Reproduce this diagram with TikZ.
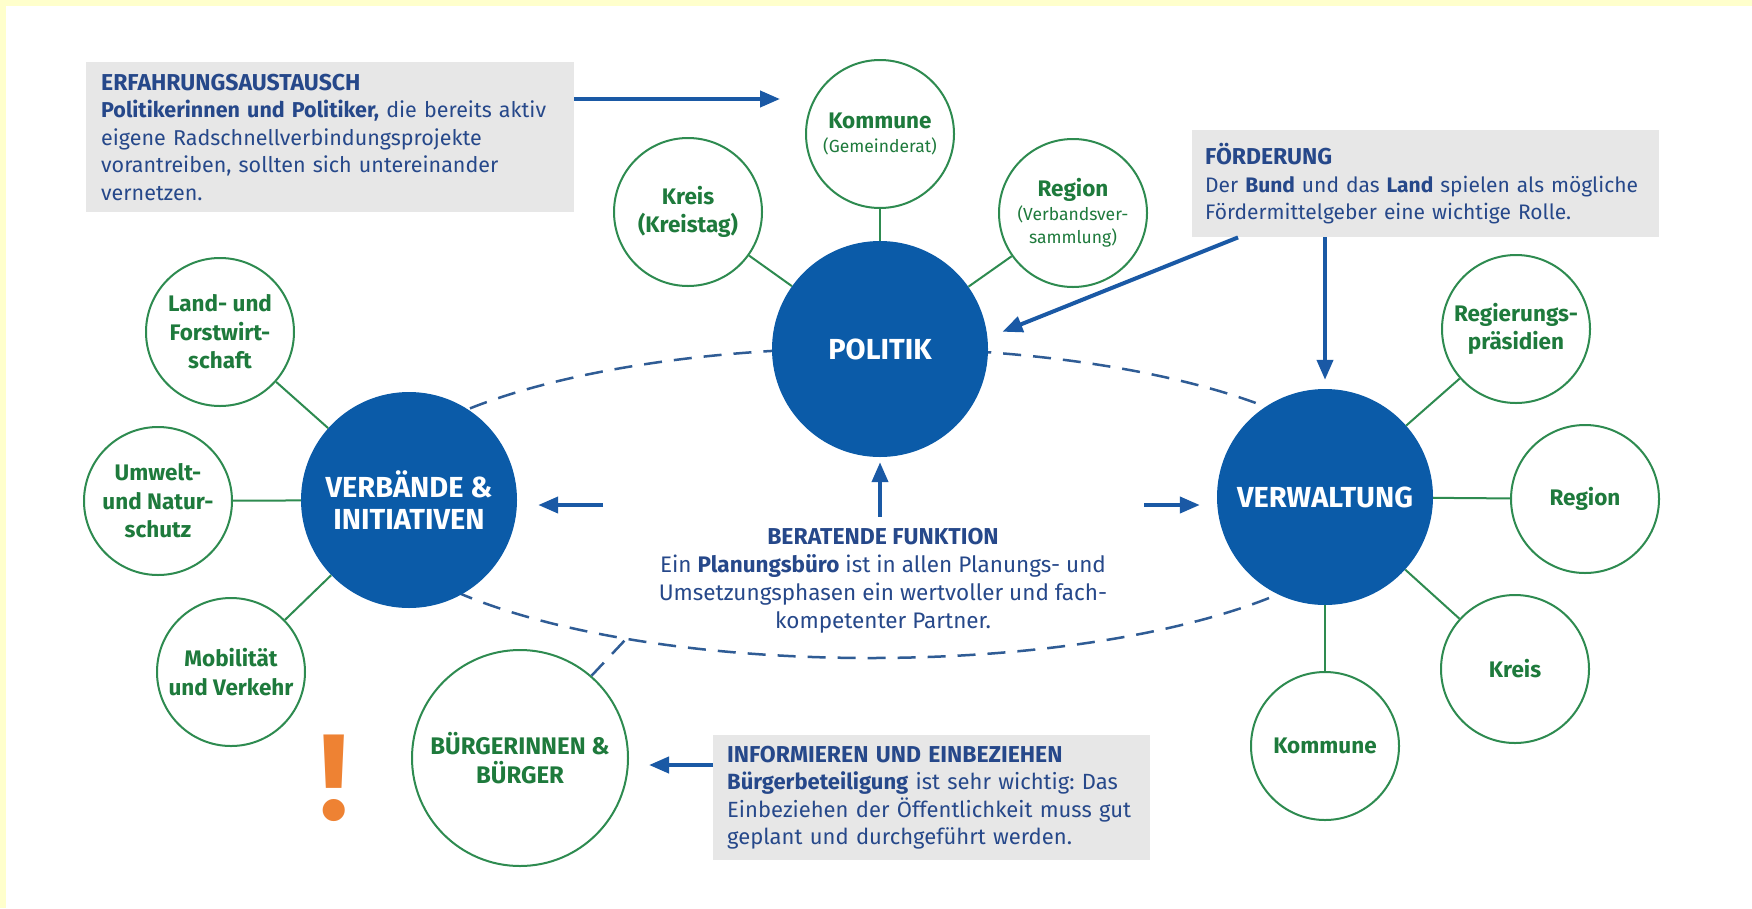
\documentclass[tikz,border=0pt]{standalone}
\usepackage{fontspec}
\setmainfont{Fira Sans}
\usetikzlibrary{arrows.meta, positioning}
\frenchspacing

\definecolor{hubblue}{HTML}{0B5BA8}
\definecolor{arrowblue}{HTML}{1A59A5}
\definecolor{ringblue}{HTML}{2F5C95}
\definecolor{satgreen}{HTML}{2E8B50}
\definecolor{textgreen}{HTML}{1E7A3C}
\definecolor{boxgray}{HTML}{E7E7E7}
\definecolor{textnavy}{HTML}{26488A}
\definecolor{paleyellow}{HTML}{FFFFCC}
\definecolor{signorange}{HTML}{EE8233}

\newcommand{\subnote}[1]{{\mdseries\fontsize{17.5}{21}\selectfont #1}}
\newcommand{\boxhead}[1]{{\bfseries\fontsize{23}{27.5}\selectfont #1}}

\tikzset{
  hub/.style={circle, fill=hubblue, text=white, minimum size=216pt, inner sep=0pt,
    align=center, font=\bfseries\fontsize{29}{32}\selectfont},
  sat/.style={circle, draw=satgreen, line width=2pt, fill=white, minimum size=148pt,
    inner sep=0pt, align=center, text=textgreen, font=\bfseries\fontsize{22.5}{28.5}\selectfont},
  infobox/.style={fill=boxgray, text=textnavy, align=left, anchor=north west,
    inner xsep=15pt, inner ysep=0pt, font=\fontsize{21.5}{27.5}\selectfont},
  flowarrow/.style={draw=arrowblue, line width=4pt, -{Triangle[length=20pt, width=16pt]}},
  spoke/.style={draw=satgreen, line width=2pt},
  orbit/.style={draw=ringblue, line width=2.5pt, dash pattern=on 18pt off 12pt},
}

\begin{document}
\begin{tikzpicture}[x=1pt, y=-1pt]

\useasboundingbox (0,0) rectangle (1752,908);
\fill[white] (0,0) rectangle (1752,908);
\fill[paleyellow] (0,0) rectangle (1752,6);
\fill[paleyellow] (0,0) rectangle (6,908);

\draw[orbit] (870,503) ellipse [x radius=505, y radius=155];

\node[hub] (pol) at (880,349) {POLITIK};
\node[hub] (verb) at (409,500) {VERBÄNDE \&\\INITIATIVEN};
\node[hub] (verw) at (1325,497) {VERWALTUNG};

\node[sat] (gemeinde) at (880,134) {Kommune\\[-4pt]\subnote{(Gemeinderat)}};
\node[sat] (kreistag) at (688,212) {Kreis\\(Kreistag)};
\node[sat] (verband) at (1073,213) {Region\\[-5pt]\subnote{(Verbandsver-}\\[-5pt]\subnote{sammlung)}};

\node[sat] (landforst) at (220,332) {Land- und\\Forstwirt-\\schaft};
\node[sat] (umwelt) at (158,501) {Umwelt-\\und Natur-\\schutz};
\node[sat] (mobil) at (231,672) {Mobilität\\und Verkehr};
\node[sat, minimum size=216pt, font=\bfseries\fontsize{24}{29}\selectfont] (buerger) at (520,758)
  {BÜRGERINNEN \&\\BÜRGER};

\node[sat] (praesid) at (1516,329) {Regierungs-\\präsidien};
\node[sat] (regionV) at (1585,499) {Region};
\node[sat] (kreisV) at (1515,669) {Kreis};
\node[sat] (kommuneV) at (1325,746) {Kommune};

\foreach \s in {gemeinde, kreistag, verband}
  \draw[spoke] (\s) -- (pol);
\foreach \s in {landforst, umwelt, mobil}
  \draw[spoke] (\s) -- (verb);
\foreach \s in {praesid, regionV, kreisV, kommuneV}
  \draw[spoke] (\s) -- (verw);

\coordinate (orbitjoin) at (626,639);
\draw[orbit] (buerger.49) -- (orbitjoin);

\node[infobox, text width=458pt, minimum height=150pt] (erfahrung) at (86,62)
  {\boxhead{ERFAHRUNGSAUSTAUSCH}\\
   \textbf{Politikerinnen und Politiker,} die bereits aktiv\\
   eigene Radschnellverbindungsprojekte\\
   vorantreiben, sollten sich untereinander\\
   vernetzen.};
\node[infobox, text width=441pt, inner xsep=13pt, minimum height=107pt,
  font=\fontsize{21}{27.5}\selectfont] (foerder) at (1192,130)
  {\boxhead{FÖRDERUNG}\\
   Der \textbf{Bund} und das \textbf{Land} spielen als mögliche\\
   Fördermittelgeber eine wichtige Rolle.};
\node[infobox, text width=409pt, inner xsep=14pt, minimum height=125pt,
  font=\fontsize{22}{27.5}\selectfont] (inform) at (713,735)
  {\boxhead{INFORMIEREN UND EINBEZIEHEN}\\
   \textbf{Bürgerbeteiligung} ist sehr wichtig: Das\\
   Einbeziehen der Öffentlichkeit muss gut\\
   geplant und durchgeführt werden.};

\node[text=textnavy, align=center, font=\fontsize{22.5}{28}\selectfont] (berat) at (883,581)
  {\boxhead{BERATENDE FUNKTION}\\
   Ein \textbf{Planungsbüro} ist in allen Planungs- und\\
   Umsetzungsphasen ein wertvoller und fach-\\
   kompetenter Partner.};

\node[text=signorange, anchor=base, font=\bfseries\fontsize{122}{122}\selectfont] (warn) at (334,819) {!};

\coordinate (toKommune) at (780,99);
\coordinate (toVerb) at (603,505);
\coordinate (toVerw) at (1144,505);
\coordinate (toBuerger) at (713,765);

\draw[flowarrow] (erfahrung.east |- toKommune) -- (toKommune);
\draw[flowarrow, shorten >=16pt] ([xshift=46pt]foerder.south west) -- (pol.6);
\draw[flowarrow, shorten >=9pt] (foerder.south -| verw) -- (verw.north);
\draw[flowarrow, shorten >=5pt, shorten <=8pt] (berat.north -| pol) -- (pol.south);
\draw[flowarrow, shorten >=21pt] (toVerb) -- (toVerb -| verb.east);
\draw[flowarrow, shorten >=17pt] (toVerw) -- (toVerw -| verw.west);
\draw[flowarrow, shorten >=20pt] (toBuerger) -- (toBuerger -| buerger.east);

\end{tikzpicture}
\end{document}
